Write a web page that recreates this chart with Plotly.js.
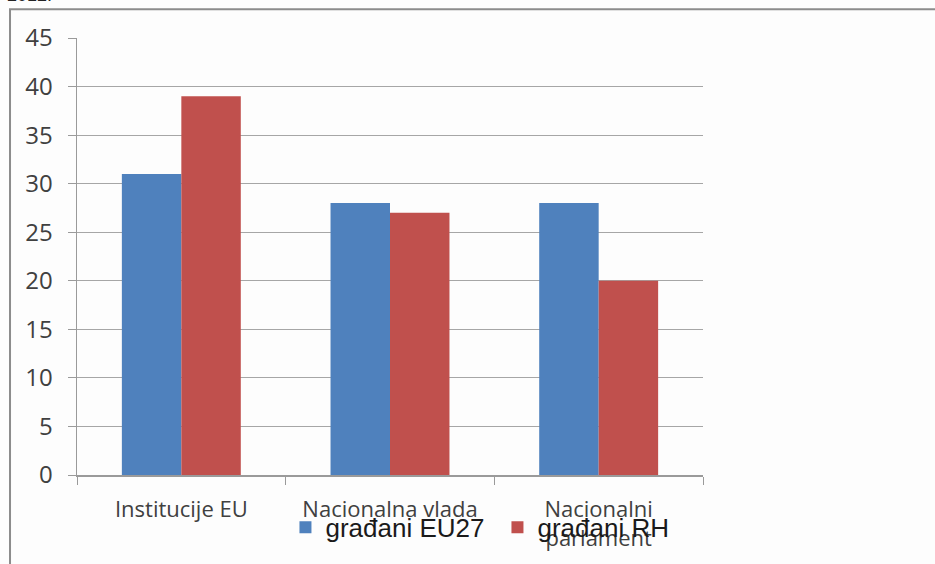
<!DOCTYPE html>
<html>
<head>
<meta charset="utf-8">
<script src="https://cdn.plot.ly/plotly-3.0.1.min.js"></script>
<style>html,body{margin:0;padding:0;background:#fdfdfd;}#chart{width:935px;height:564px;}</style>
</head>
<body>
<div id="chart"></div>
<script>
var categories = ["Institucije EU", "Nacionalna vlada", "Nacionalni<br>parlament"];
var seriesNames = ["građani EU27", "građani RH"];
var valuesEU27 = [31, 28, 28];
var valuesRH = [39, 27, 20];
var yTicks = [0, 5, 10, 15, 20, 25, 30, 35, 40, 45];

var traces = [
  {type: "bar", name: seriesNames[0], x: categories, y: valuesEU27, marker: {color: "#4F81BD"}},
  {type: "bar", name: seriesNames[1], x: categories, y: valuesRH, marker: {color: "#C0504D"}}
];

var layout = {
  width: 935, height: 564,
  margin: {l: 77, r: 232, t: 38, b: 89},
  paper_bgcolor: "#fdfdfd", plot_bgcolor: "#fdfdfd",
  barmode: "group", bargap: 0.43, bargroupgap: 0,
  font: {family: "Open Sans, Noto Sans, sans-serif", color: "#404040", size: 18},
  xaxis: {
    type: "category", showgrid: false, showline: true, linecolor: "#9a9a9a", linewidth: 1.5,
    ticks: "outside", tickson: "boundaries", ticklen: 8, tickcolor: "#9a9a9a",
    ticklabelstandoff: 14, tickfont: {size: 22, color: "#404040"}
  },
  yaxis: {
    range: [0, 45], tickvals: yTicks, showgrid: true, gridcolor: "#a6a6a6", gridwidth: 1.2,
    showline: true, linecolor: "#9a9a9a", linewidth: 1.5, zeroline: false,
    ticks: "outside", ticklen: 8, tickcolor: "#9a9a9a", ticklabelstandoff: 10,
    tickfont: {size: 24, color: "#404040"}
  },
  showlegend: true,
  legend: {
    orientation: "h", x: 0.333, xanchor: "left", y: -0.12, yanchor: "middle",
    entrywidth: 167, entrywidthmode: "pixels",
    font: {family: "Liberation Sans, Arial, sans-serif", size: 26, color: "#1a1a1a"},
    bgcolor: "rgba(0,0,0,0)", itemwidth: 30
  },
  shapes: [
    {type: "rect", xref: "paper", yref: "paper", x0: -0.107, x1: 1.6, y0: -0.4, y1: 1.066,
     line: {color: "#8c8c8c", width: 2}, fillcolor: "rgba(0,0,0,0)", layer: "below"}
  ],
  annotations: [
    {xref: "paper", yref: "paper", x: -0.115, y: 1.07, xanchor: "left", yanchor: "bottom",
     text: "2012.", showarrow: false, font: {family: "Liberation Sans, Arial, sans-serif", size: 18, color: "#222"}}
  ]
};

Plotly.newPlot("chart", traces, layout, {displayModeBar: false, staticPlot: true});
</script>
</body>
</html>
